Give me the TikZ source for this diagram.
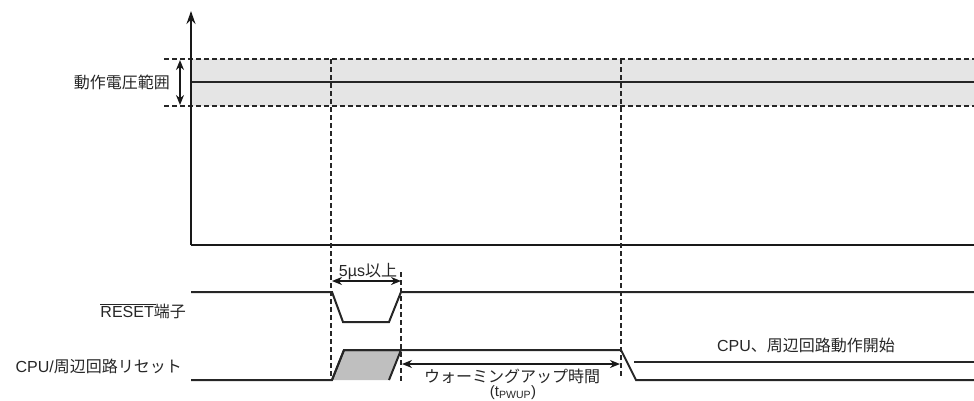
\documentclass[tikz,border=0pt]{standalone}
\usepackage{fontspec}
\setmainfont{Liberation Sans}
\newfontfamily\jp{Noto Sans CJK JP}
\usetikzlibrary{arrows.meta}
\tikzset{
  sig/.style={line width=2pt, black!85},
  axisline/.style={line width=2.1pt, black!90},
  guide/.style={line width=1.6pt, dash pattern=on 5pt off 3pt, black!85},
  dim/.style={line width=1.7pt, black!90, {Stealth[length=10pt,width=8pt]}-{Stealth[length=10pt,width=8pt]}},
  lbl/.style={font=\fontsize{16}{18}\selectfont, inner sep=0pt, text=black!85},
}
\begin{document}
\begin{tikzpicture}[x=1pt,y=-1pt]
\useasboundingbox (0,0) rectangle (974,400);
% band
\fill[black!10] (191,59) rectangle (974,106);
\coordinate (bandTL) at (164,59); \coordinate (bandTR) at (974,59);
\coordinate (bandBL) at (164,106); \coordinate (bandBR) at (974,106);
\draw[guide] (bandTL) -- (bandTR);
\draw[guide] (bandBL) -- (bandBR);
\coordinate (vddL) at (191,82); \coordinate (vddR) at (974,82);
\draw[sig, line width=1.6pt] (vddL) -- (vddR);
% axes
\coordinate (org) at (191,245); \coordinate (ytop) at (191,11); \coordinate (xend) at (974,245);
\draw[axisline, -{Stealth[length=13pt,width=9pt]}] (org) -- (ytop);
\draw[axisline] (org) -- (xend);
% range arrow
\coordinate (rA) at (180,60); \coordinate (rB) at (180,105);
\draw[dim] (rA) -- (rB);
\node[lbl, anchor=east] (range) at (170,82) {\jp 動作電圧範囲};
% vertical guides
\coordinate (g1t) at (331,59); \coordinate (g1b) at (331,381);
\coordinate (g2t) at (401,272); \coordinate (g2b) at (401,381);
\coordinate (g3t) at (621,59); \coordinate (g3b) at (621,378);
\draw[guide] (g1t) -- (g1b);
\draw[guide] (g2t) -- (g2b);
\draw[guide] (g3t) -- (g3b);
% 5us arrow
\coordinate (pA) at (332,281); \coordinate (pB) at (401,281);
\draw[dim] (pA) -- (pB);
\node[lbl, anchor=base] (pw) at (368,276) {5µs{\jp 以上}};
% RESET
\coordinate (r0) at (191,292); \coordinate (r1) at (332,292); \coordinate (r2) at (343,322);
\coordinate (r3) at (389,322); \coordinate (r4) at (401,292); \coordinate (r5) at (974,292);
\draw[sig] (r0) -- (r1) -- (r2) -- (r3) -- (r4) -- (r5);
\node[lbl, anchor=east] (reset) at (186,311) {\rlap{\rule[12.3pt]{56pt}{1.2pt}}RESET{\jp 端子}};
% CPU reset
\coordinate (c0) at (191,380); \coordinate (c1) at (332,380); \coordinate (c2) at (344,350);
\coordinate (c3) at (621,350); \coordinate (c4) at (636,380); \coordinate (c5) at (974,380);
\coordinate (q3) at (401,350); \coordinate (q4) at (389,380);
\fill[black!25] (c1) -- (c2) -- (q3) -- (q4) -- cycle;
\draw[sig] (c1) -- (c2) -- (q3) -- (q4);
\draw[sig] (c0) -- (c1) -- (c2) -- (c3) -- (c4) -- (c5);
\node[lbl, anchor=east] (cpu) at (182,366) {CPU/{\jp 周辺回路リセット}};
% start line
\coordinate (s0) at (634,362); \coordinate (s1) at (974,362);
\draw[sig, line width=1.6pt] (s0) -- (s1);
\node[lbl] (start) at (806,345) {CPU{\jp 、周辺回路動作開始}};
% warm-up
\coordinate (wA) at (402,364); \coordinate (wB) at (620,364);
\draw[dim] (wA) -- (wB);
\node[lbl] (warm) at (512,376) {\jp ウォーミングアップ時間};
\node[lbl, font=\fontsize{15}{17}\selectfont] (tp) at (513,392.5) {(t\textsubscript{PWUP})};
\end{tikzpicture}
\end{document}
